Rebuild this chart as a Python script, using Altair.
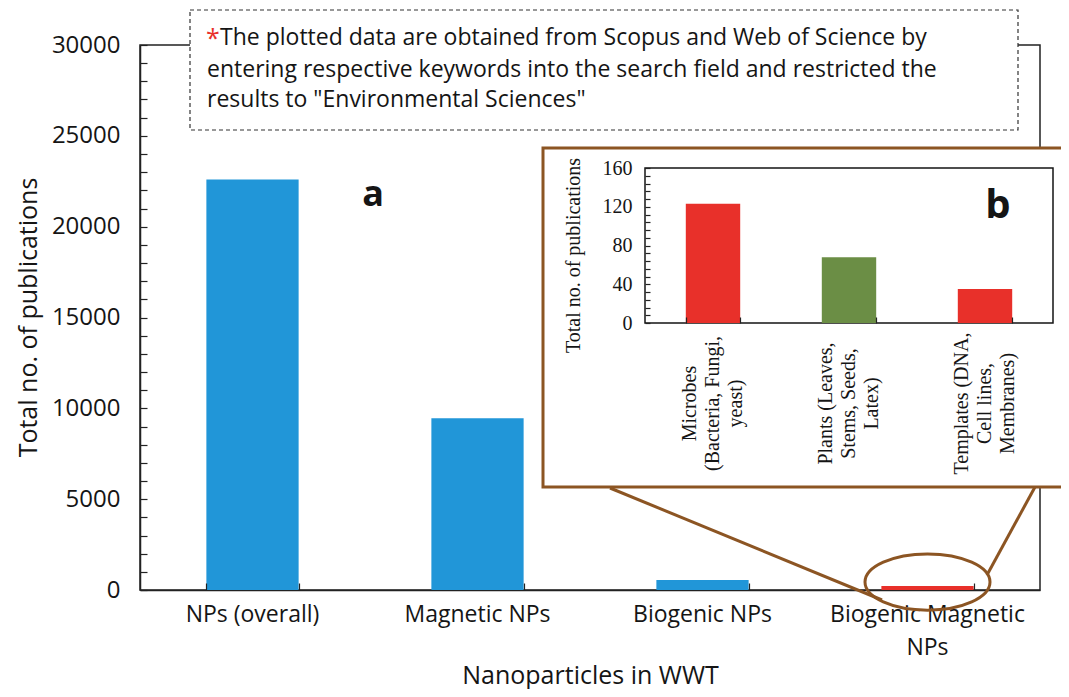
import altair as alt
import pandas as pd

# ---------------- data ----------------
main_categories = ["NPs (overall)", "Magnetic NPs", "Biogenic NPs", "Biogenic Magnetic NPs"]
main_values = [22600, 9450, 550, 226]
main_colors = ["#2196d8", "#2196d8", "#2196d8", "#e8302a"]
main_y_ticks = [0, 5000, 10000, 15000, 20000, 25000, 30000]
main_y_minor = list(range(0, 30001, 1000))

inset_categories = [
    "Microbes\n(Bacteria, Fungi,\nyeast)",
    "Plants (Leaves,\nStems, Seeds,\nLatex)",
    "Templates (DNA,\nCell lines,\nMembranes)",
]
inset_values = [123, 68, 35]
inset_colors = ["#e8302a", "#6b8e45", "#e8302a"]
inset_y_ticks = [0, 40, 80, 120, 160]
inset_y_minor = list(range(0, 161, 8))

note_lines = [
    "The plotted data are obtained from Scopus and Web of Science  by",
    "entering respective keywords into the search field  and restricted  the",
    'results to "Environmental Sciences"',
]

main_df = pd.DataFrame({"cat": main_categories, "val": main_values, "color": main_colors})
inset_df = pd.DataFrame({"cat": inset_categories, "val": inset_values, "color": inset_colors})
one = pd.DataFrame({"d": [0]})

W, H = 900, 545
SANS = "Open Sans"
SERIF = "Liberation Serif"
BROWN = "#8c5523"
INK = "#151515"

# ---------------- main chart ----------------
x_main = alt.Scale(domain=main_categories, paddingInner=0.59, paddingOuter=0.295)
y_main = alt.Scale(domain=[0, 30000], nice=False)

main_bars = alt.Chart(main_df).mark_bar().encode(
    x=alt.X("cat:N", sort=main_categories, scale=x_main,
            axis=alt.Axis(orient="bottom", labelAngle=0, ticks=False, tickSize=0,
                          labelPadding=13, labelFont=SANS, labelFontSize=23,
                          labelColor=INK,
                          labelExpr="datum.label == 'Biogenic Magnetic NPs' ? ['Biogenic Magnetic', 'NPs'] : datum.label",
                          labelLineHeight=33, labelLimit=400, labelOverlap=False,
                          title="Nanoparticles in WWT", titleFont=SANS, titleFontSize=25,
                          titleFontWeight="normal", titleColor=INK, titleY=85,
                          titleBaseline="middle", domain=True, grid=False)),
    y=alt.Y("val:Q", scale=y_main,
            axis=alt.Axis(orient="left", values=main_y_ticks, ticks=False, tickSize=0,
                          labelPadding=20, labelFont=SANS, labelFontSize=24,
                          labelColor=INK, format="d",
                          title="Total no. of publications", titleFont=SANS,
                          titleFontSize=25, titleFontWeight="normal", titleColor=INK,
                          titleX=-112, titleY=272, titleAngle=270,
                          titleBaseline="middle", titleAlign="center",
                          domain=True, grid=False)),
    color=alt.Color("color:N", scale=None),
)

main_ticks = alt.Chart(main_df).mark_bar(opacity=0).encode(
    x=alt.X("cat:N", sort=main_categories, scale=x_main,
            axis=alt.Axis(orient="top", offset=-H, labels=False, domain=False,
                          ticks=True, tickSize=7, tickBand="extent", title=None,
                          grid=False, zindex=1)),
    y=alt.Y("val:Q", scale=y_main,
            axis=alt.Axis(orient="right", offset=-W, values=main_y_minor, labels=False,
                          domain=False, ticks=True, tickSize=7, title=None, grid=False)),
)

ellipse = alt.Chart(main_df[main_df["cat"] == "Biogenic Magnetic NPs"]).mark_point(
    shape="M -1 0 A 1 0.45 0 1 0 1 0 A 1 0.45 0 1 0 -1 0 Z",
    size=15625, filled=False, stroke=BROWN, strokeWidth=3, opacity=1,
).encode(
    x=alt.X("cat:N", sort=main_categories, scale=x_main, axis=None),
    y=alt.value(537),
)

main_group = alt.layer(main_bars, main_ticks, ellipse).resolve_axis(
    x="independent", y="independent")

# ---------------- decorations ----------------
line_left = alt.Chart(one).mark_rule(color=BROWN, strokeWidth=3).encode(
    x=alt.value(470), x2=alt.value(742), y=alt.value(443), y2=alt.value(555))
line_right = alt.Chart(one).mark_rule(color=BROWN, strokeWidth=3).encode(
    x=alt.value(895), x2=alt.value(847), y=alt.value(442), y2=alt.value(530))

inset_box = alt.Chart(one).mark_rect(fill="white", stroke=BROWN, strokeWidth=3).encode(
    x=alt.value(403), x2=alt.value(950), y=alt.value(103), y2=alt.value(442))

note_box = alt.Chart(one).mark_rect(fill="white", stroke="#333", strokeWidth=1.2,
                                    strokeDash=[4, 3]).encode(
    x=alt.value(50), x2=alt.value(878), y=alt.value(-35), y2=alt.value(85))

NOTE_FS = 23
note_star = alt.Chart(one).mark_text(text="*", color="#e8302a", font=SANS, fontSize=25,
                                     align="left", baseline="middle").encode(
    x=alt.value(66), y=alt.value(-6))
note_1 = alt.Chart(one).mark_text(text=note_lines[0], color=INK, font=SANS, fontSize=NOTE_FS,
                                  align="left", baseline="middle").encode(
    x=alt.value(80), y=alt.value(-7))
note_2 = alt.Chart(one).mark_text(text=note_lines[1], color=INK, font=SANS, fontSize=NOTE_FS,
                                  align="left", baseline="middle").encode(
    x=alt.value(67), y=alt.value(25))
note_3 = alt.Chart(one).mark_text(text=note_lines[2], color=INK, font=SANS, fontSize=NOTE_FS,
                                  align="left", baseline="middle").encode(
    x=alt.value(67), y=alt.value(55))

label_a = alt.Chart(one).mark_text(text="a", font=SANS, fontSize=36, fontWeight="bold",
                                   color=INK, align="center", baseline="middle").encode(
    x=alt.value(233), y=alt.value(150))

inset_frame = alt.Chart(one).mark_rect(fill="white", stroke=INK, strokeWidth=1.5).encode(
    x=alt.value(505), x2=alt.value(913), y=alt.value(123), y2=alt.value(278))

label_b = alt.Chart(one).mark_text(text="b", font=SANS, fontSize=40, fontWeight="bold",
                                   color=INK, align="center", baseline="middle").encode(
    x=alt.value(858), y=alt.value(161))

# ---------------- inset chart ----------------
x_inset = alt.Scale(domain=inset_categories, range=[505, 913], paddingInner=0.6,
                    paddingOuter=0.3)
y_inset = alt.Scale(domain=[0, 160], range=[278, 123], nice=False)

inset_bars = alt.Chart(inset_df).mark_bar().encode(
    x=alt.X("cat:N", sort=inset_categories, scale=x_inset,
            axis=alt.Axis(orient="bottom", offset=-267, labelAngle=270,
                          labelAlign="center", labelBaseline="middle",
                          labelExpr="split(datum.label, '\\n')",
                          labelPadding=80, labelOffset=-23, labelFont=SERIF,
                          labelFontSize=20, labelLineHeight=23, labelColor=INK,
                          labelLimit=400, labelOverlap=False, ticks=False, tickSize=0,
                          domain=False, title=None, grid=False, zindex=1)),
    y=alt.Y("val:Q", scale=y_inset,
            axis=alt.Axis(orient="left", offset=-505, values=inset_y_ticks, ticks=False,
                          tickSize=0, labelPadding=13, labelFont=SERIF, labelFontSize=20,
                          labelColor=INK, title="Total no. of publications",
                          titleFont=SERIF, titleFontSize=20, titleFontWeight="normal",
                          titleColor=INK, titleX=-72, titleY=210, titleAngle=270,
                          titleBaseline="middle", titleAlign="center",
                          domain=False, grid=False, zindex=1)),
    color=alt.Color("color:N", scale=None),
)

inset_ticks = alt.Chart(inset_df).mark_bar(opacity=0).encode(
    x=alt.X("cat:N", sort=inset_categories, scale=x_inset,
            axis=alt.Axis(orient="top", offset=-278, labels=False, domain=False,
                          ticks=True, tickSize=6, tickBand="extent", title=None,
                          grid=False, zindex=1)),
    y=alt.Y("val:Q", scale=y_inset,
            axis=alt.Axis(orient="right", offset=-395, values=inset_y_minor, labels=False,
                          domain=False, ticks=True, tickSize=5, title=None, grid=False,
                          zindex=1)),
)

inset_group = alt.layer(inset_bars, inset_ticks).resolve_axis(
    x="independent", y="independent")

chart = alt.layer(
    main_group, line_left, line_right, inset_box, note_box, note_star, note_1, note_2,
    note_3, label_a, inset_frame, label_b, inset_group,
).resolve_scale(x="independent", y="independent").properties(
    width=W, height=H, autosize="none",
    padding={"left": 132, "top": 37, "right": 21, "bottom": 99},
).configure_view(stroke="#222", strokeWidth=1.5).configure_axis(
    domainColor="#222", domainWidth=1.5, tickColor="#222", tickWidth=1.2,
)

chart.save("out.html", embed_options={"renderer": "svg", "actions": False})
